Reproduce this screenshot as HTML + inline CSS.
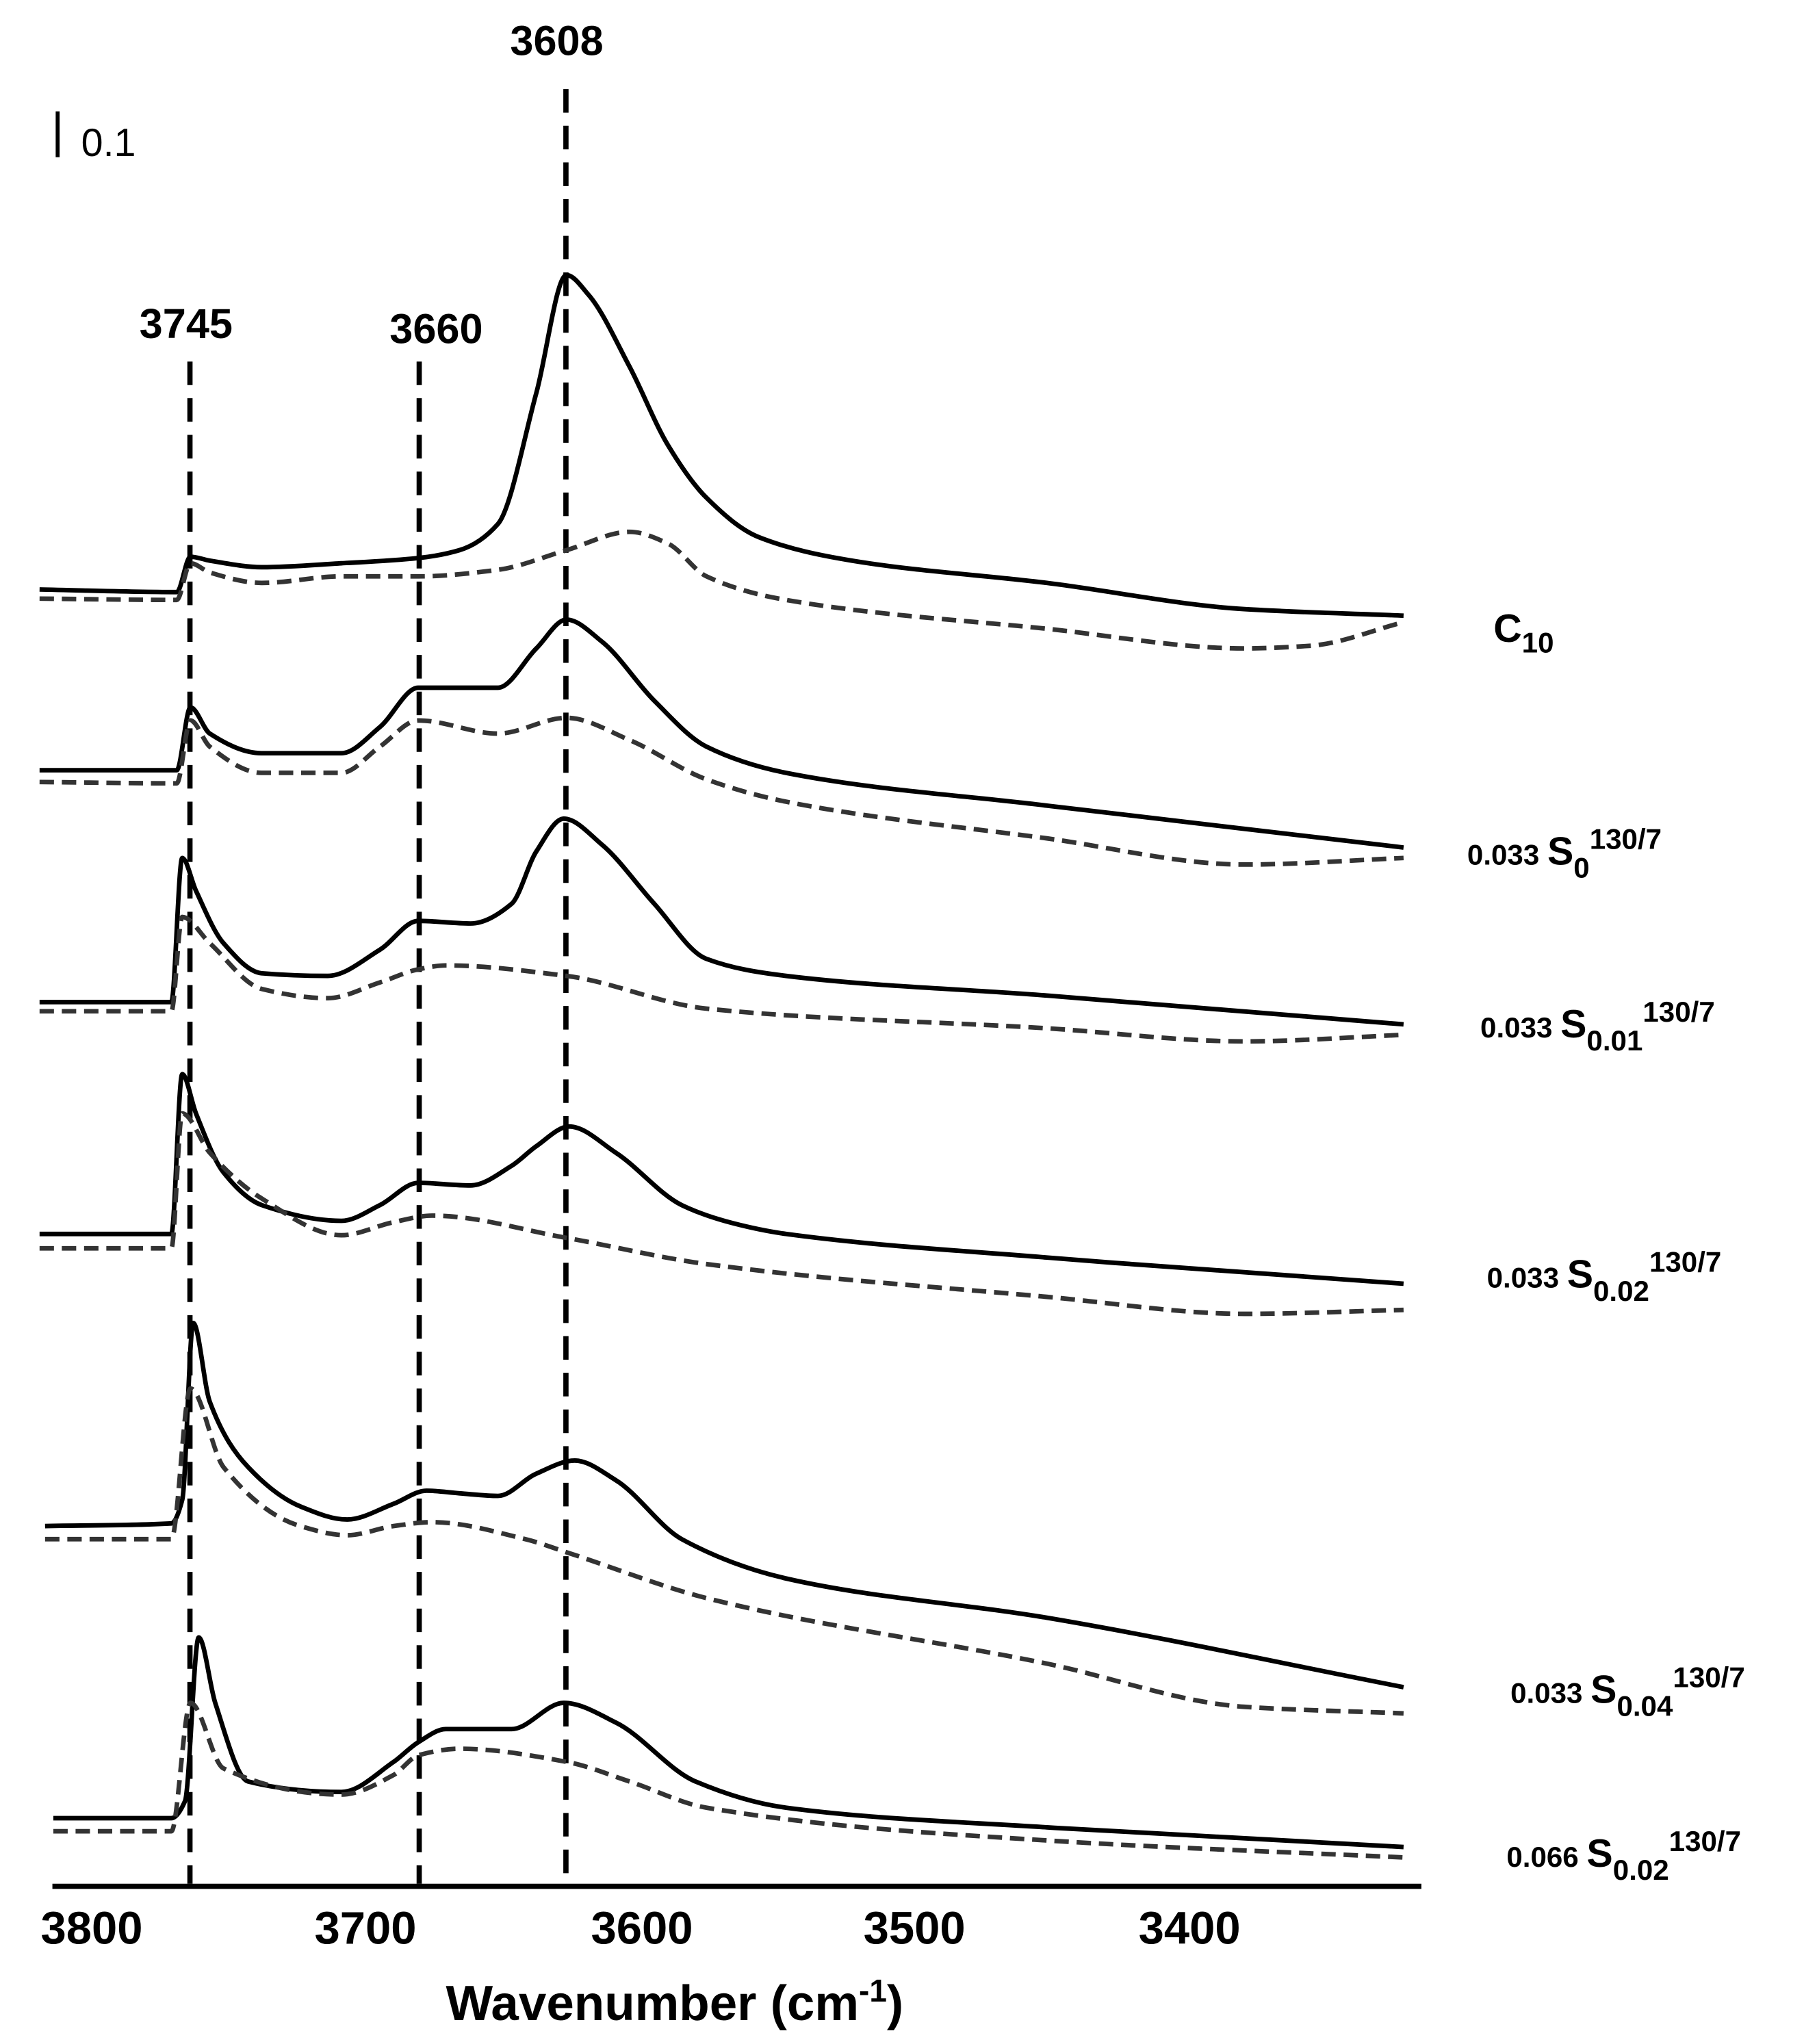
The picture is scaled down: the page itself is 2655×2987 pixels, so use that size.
<!DOCTYPE html>
<html><head><meta charset="utf-8"><style>
html,body{margin:0;padding:0;background:#fff;}
svg{display:block;font-family:"Liberation Sans",sans-serif;}
.b{font-weight:bold;}
</style></head><body>
<svg id="chart" width="2655" height="2987" viewBox="0 0 1387 1560.4" preserveAspectRatio="none" xmlns="http://www.w3.org/2000/svg">
<rect width="1387" height="1561" fill="#fff"/>
<g>
<line x1="44" y1="85" x2="44" y2="120" stroke="#000" stroke-width="3"/>
<text x="62" y="119" font-size="30">0.1</text>
</g>
<g>
<line x1="40" y1="1440" x2="1085" y2="1440" stroke="#000" stroke-width="4"/>
<text class="b" x="70" y="1484" font-size="35" text-anchor="middle">3800</text>
<text class="b" x="279" y="1484" font-size="35" text-anchor="middle">3700</text>
<text class="b" x="490" y="1484" font-size="35" text-anchor="middle">3600</text>
<text class="b" x="698" y="1484" font-size="35" text-anchor="middle">3500</text>
<text class="b" x="908" y="1484" font-size="35" text-anchor="middle">3400</text>
<text class="b" x="515" y="1542" font-size="38" text-anchor="middle">Wavenumber (cm<tspan dy="-14" font-size="24">-1</tspan><tspan dy="14">)</tspan></text>
</g>
<g stroke="#000" stroke-width="4" stroke-dasharray="18 10">
<line x1="145" y1="276" x2="145" y2="1438"/>
<line x1="320" y1="276" x2="320" y2="1438"/>
<line x1="432" y1="68" x2="432" y2="1438"/>
</g>
<text class="b" x="142" y="258" font-size="32" text-anchor="middle">3745</text>
<text class="b" x="333" y="262" font-size="32" text-anchor="middle">3660</text>
<text class="b" x="425" y="42" font-size="32" text-anchor="middle">3608</text>
<g class="b">
<text x="1140" y="490" font-size="30">C<tspan dy="8" font-size="22">10</tspan></text>
<text x="1120" y="660" font-size="22">0.033 <tspan font-size="30">S</tspan><tspan dy="10" font-size="22">0</tspan><tspan dy="-22" font-size="22">130/7</tspan></text>
<text x="1130" y="792" font-size="22">0.033 <tspan font-size="30">S</tspan><tspan dy="10" font-size="22">0.01</tspan><tspan dy="-22" font-size="22">130/7</tspan></text>
<text x="1135" y="983" font-size="22">0.033 <tspan font-size="30">S</tspan><tspan dy="10" font-size="22">0.02</tspan><tspan dy="-22" font-size="22">130/7</tspan></text>
<text x="1153" y="1300" font-size="22">0.033 <tspan font-size="30">S</tspan><tspan dy="10" font-size="22">0.04</tspan><tspan dy="-22" font-size="22">130/7</tspan></text>
<text x="1150" y="1425" font-size="22">0.066 <tspan font-size="30">S</tspan><tspan dy="10" font-size="22">0.02</tspan><tspan dy="-22" font-size="22">130/7</tspan></text>
</g>
<g id="curves"></g>
</svg>
<script>
// offsets (a.u. above axis) and values (a.u., relative to baseline)
const offsets = [990, 983, 852, 843, 675, 668, 498, 487, 275, 265, 52, 42];
const wn1s = [3819,3769,3764,3757,3738,3709,3681,3666,3652,3638,3627,3619,3604,3590,3576,3557,3523,3452,3380,3322];
const v1s  = [0,-2,25,22,17,20,24,30,50,150,240,225,170,110,70,40,22,5,-15,-20];
const wn1d = [3819,3769,3764,3757,3738,3709,3681,3652,3627,3604,3590,3576,3547,3452,3380,3356,3322];
const v1d  = [0,-1,27,20,12,17,17,22,37,51,42,17,-1,-23,-38,-36,-18];
const wn2s = [3819,3769,3764,3757,3738,3709,3695,3681,3666,3652,3638,3627,3614,3595,3576,3547,3452,3322];
const v2s  = [0,0,48,28,13,13,33,63,63,63,93,115,98,53,18,-2,-27,-59];
const wn2d = [3819,3769,3764,3757,3738,3709,3695,3681,3652,3627,3604,3576,3547,3452,3380,3322];
const v2d  = [0,-1,47,27,7,7,27,47,37,49,32,2,-15,-43,-63,-58];
const wn3s = [3819,3771,3767,3762,3752,3738,3714,3695,3681,3662,3647,3638,3628,3614,3595,3576,3547,3452,3322];
const v3s  = [0,0,110,85,45,22,20,40,62,60,75,115,140,120,75,33,20,5,-17];
const wn3d = [3819,3771,3767,3757,3738,3714,3695,3681,3671,3627,3576,3452,3380,3322];
const v3d  = [0,0,72,52,17,10,22,32,35,27,2,-13,-23,-18];
const wn4s = [3819,3771,3767,3762,3752,3738,3709,3695,3681,3662,3647,3638,3626,3609,3585,3566,3547,3452,3322];
const v4s  = [0,0,122,92,47,22,10,22,39,37,52,67,82,62,22,8,0,-18,-38];
const wn4d = [3819,3771,3767,3757,3738,3709,3690,3676,3627,3576,3452,3380,3322];
const v4d  = [0,0,103,73,38,10,20,25,8,-12,-37,-50,-47];
const wn5s = [3817,3771,3767,3763,3757,3743,3724,3707,3690,3678,3666,3652,3638,3624,3609,3585,3547,3452,3322];
const v5s  = [0,2,20,155,95,45,15,5,17,27,25,23,40,50,35,-10,-40,-70,-123];
const wn5d = [3817,3771,3764,3752,3724,3707,3690,3676,3642,3627,3576,3452,3380,3322];
const v5d  = [0,0,115,55,10,3,10,13,0,-10,-45,-95,-128,-133];
const wn6s = [3814,3771,3766,3761,3755,3743,3709,3690,3681,3671,3647,3628,3609,3580,3547,3452,3322];
const v6s  = [0,0,13,138,88,28,20,43,58,68,68,88,73,28,8,-7,-22];
const wn6d = [3814,3771,3764,3752,3709,3690,3681,3666,3627,3604,3576,3452,3322];
const v6d  = [0,0,98,48,28,43,58,63,53,38,18,-7,-20];

const series = [
 [wn1s,v1s,'c10-solid',false],[wn1d,v1d,'c10-dashed',true],
 [wn2s,v2s,'s0-solid',false],[wn2d,v2d,'s0-dashed',true],
 [wn3s,v3s,'s001-solid',false],[wn3d,v3d,'s001-dashed',true],
 [wn4s,v4s,'s002-solid',false],[wn4d,v4d,'s002-dashed',true],
 [wn5s,v5s,'s004-solid',false],[wn5d,v5d,'s004-dashed',true],
 [wn6s,v6s,'s002-066-solid',false],[wn6d,v6d,'s002-066-dashed',true]
];
function xScale(w){return 70 + (3800 - w) * 2.095;}
function yScale(a){return 1440 - a;}
// monotone cubic (Fritsch-Carlson) path
function pathFor(pts){
  const n = pts.length, dx = [], m = [], t = [];
  for (let i = 0; i < n-1; i++){ dx[i] = pts[i+1][0]-pts[i][0]; m[i] = (pts[i+1][1]-pts[i][1])/dx[i]; }
  t[0] = m[0]; t[n-1] = m[n-2];
  for (let i = 1; i < n-1; i++){
    if (m[i-1]*m[i] <= 0) t[i] = 0;
    else { const w1 = 2*dx[i]+dx[i-1], w2 = dx[i]+2*dx[i-1]; t[i] = (w1+w2)/(w1/m[i-1]+w2/m[i]); }
  }
  let d = 'M' + pts[0][0].toFixed(1) + ',' + pts[0][1].toFixed(1);
  for (let i = 0; i < n-1; i++){
    const h = dx[i]/3;
    d += 'C' + (pts[i][0]+h).toFixed(1)+','+(pts[i][1]+t[i]*h).toFixed(1)+' '+(pts[i+1][0]-h).toFixed(1)+','+(pts[i+1][1]-t[i+1]*h).toFixed(1)+' '+pts[i+1][0].toFixed(1)+','+pts[i+1][1].toFixed(1);
  }
  return d;
}
const g = document.getElementById('curves');
series.forEach((s, k) => {
  const pts = s[0].map((w, i) => [xScale(w), yScale(offsets[k] + s[1][i])]);
  const p = document.createElementNS('http://www.w3.org/2000/svg', 'path');
  p.setAttribute('d', pathFor(pts));
  p.setAttribute('fill', 'none');
  p.setAttribute('stroke', s[3] ? '#333' : '#000');
  p.setAttribute('stroke-width', '3.5');
  p.setAttribute('stroke-linejoin', 'round');
  if (s[3]) p.setAttribute('stroke-dasharray', '11 6');
  
  
  g.appendChild(p);
});
</script>
</body></html>
